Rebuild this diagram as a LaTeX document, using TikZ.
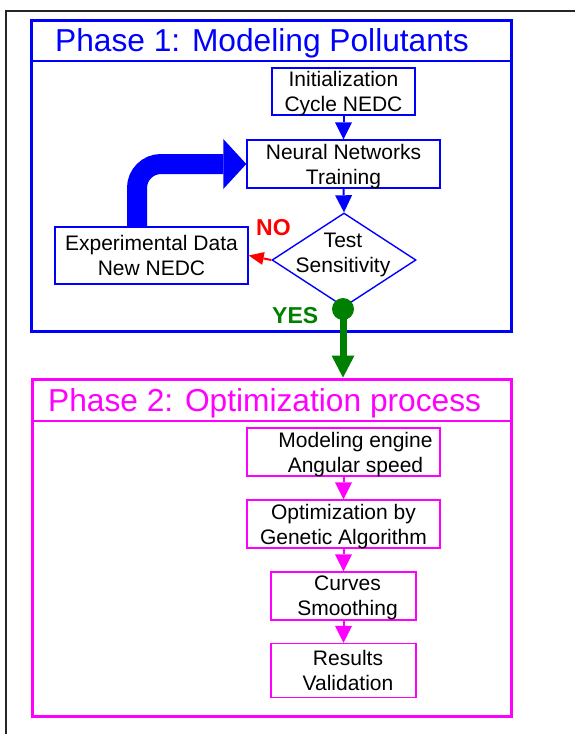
\documentclass[tikz,border=0pt]{standalone}
\usepackage{fontspec}
\setmainfont{Liberation Sans}
\usetikzlibrary{arrows.meta,shapes.geometric}
\definecolor{pblue}{RGB}{0,0,255}
\definecolor{pmag}{RGB}{255,0,255}
\definecolor{pgreen}{RGB}{0,128,0}
\definecolor{pred}{RGB}{255,0,0}
\begin{document}
\begin{tikzpicture}[x=1pt,y=-1pt,
  txt/.style={font=\fontsize{21}{25}\selectfont, align=center, text depth=0pt, inner sep=0pt},
  phaseframe/.style={draw=#1, line width=3pt, inner sep=0pt},
  box/.style={draw=#1, line width=1.4pt, txt},
  sepline/.style={draw=#1, line width=2pt},
  thinarrow/.style={draw=#1, line width=2pt, -{Triangle[width=17pt,length=17pt,line width=0pt]}},
  ttl/.style={font=\fontsize{31.7}{38}\selectfont, anchor=base west, inner sep=0pt},
  lbl/.style={font=\fontsize{23}{28}\selectfont\bfseries, anchor=base west, inner sep=0pt}
]
\path[use as bounding box] (0,0) rectangle (575,734);
\begin{scope}
\clip (0,0) rectangle (575,734);
\draw[black!85, line width=1.8pt] (6,11) rectangle (700,800);
\end{scope}

% Phase 1
\node[phaseframe=pblue, minimum width=480pt, minimum height=311pt] (p1) at (271,175.5) {};
\draw[sepline=pblue] (p1.west |- 0,61) -- (p1.east |- 0,61);
\node[ttl, text=pblue] (t1) at (55,51) {Phase 1: Modeling Pollutants};

\node[box=pblue, minimum width=143pt, minimum height=47pt] (init) at (343.5,91.5) {Initialization\\Cycle NEDC};
\node[box=pblue, minimum width=193pt, minimum height=48pt] (nn) at (343.5,164) {Neural Networks\\Training};
\node[diamond, draw=pblue, line width=1.4pt, minimum width=144pt, minimum height=94pt, inner sep=0pt] (dia) at (344,260) {};
\node[txt] (diat) at (343,253) {Test\\Sensitivity};
\node[box=pblue, minimum width=193pt, minimum height=57pt] (exp) at (151.5,255.5) {Experimental Data\\New NEDC};

\draw[thinarrow=pblue] (init.south) -- (nn.north);
\draw[thinarrow=pblue] (nn.south) -- (dia.north);
\draw[draw=pred, line width=2pt, -{Triangle[width=13pt,length=15pt,line width=0pt]}] (dia.west) -- (exp.east);
\node[lbl, text=pred] (no) at (256,235) {NO};

\draw[draw=pblue, line width=20pt, rounded corners=24pt, -{Triangle[width=50pt,length=23pt,line width=0pt]}]
  ([xshift=-14.5pt]exp.north) |- (nn.west);

\node[circle, fill=pgreen, minimum size=22pt, inner sep=0pt] (dot) at (343,309) {};
\node[lbl, text=pgreen] (yes) at (272,323) {YES};

% Phase 2
\node[phaseframe=pmag, minimum width=479pt, minimum height=337pt] (p2) at (271.5,547.5) {};
\draw[sepline=pmag] (p2.west |- 0,420.5) -- (p2.east |- 0,420.5);
\node[ttl, text=pmag] (t2) at (48,411) {Phase 2: Optimization process};

\draw[draw=pgreen, line width=7pt, -{Triangle[width=23pt,length=22pt,line width=0pt]}] (dot.center) -- (dot.center |- p2.north);

\node[box=pmag, minimum width=193pt, minimum height=48pt] (me) at (343.5,452) {\hspace*{24pt}Modeling engine\\\hspace*{24pt}Angular speed};
\node[box=pmag, minimum width=193pt, minimum height=48pt] (opt) at (343.5,524) {Optimization by\\Genetic Algorithm};
\node[box=pmag, minimum width=145pt, minimum height=48pt] (cs) at (343.5,596) {\hspace*{8pt}Curves\\\hspace*{8pt}Smoothing};
\node[box=pmag, minimum width=145pt, minimum height=54pt] (rv) at (343.5,670.5) {\hspace*{9pt}Results\\\hspace*{9pt}Validation};

\draw[thinarrow=pmag] (me.south) -- (opt.north);
\draw[thinarrow=pmag] (opt.south) -- (cs.north);
\draw[thinarrow=pmag] (cs.south) -- (rv.north);
\end{tikzpicture}
\end{document}
